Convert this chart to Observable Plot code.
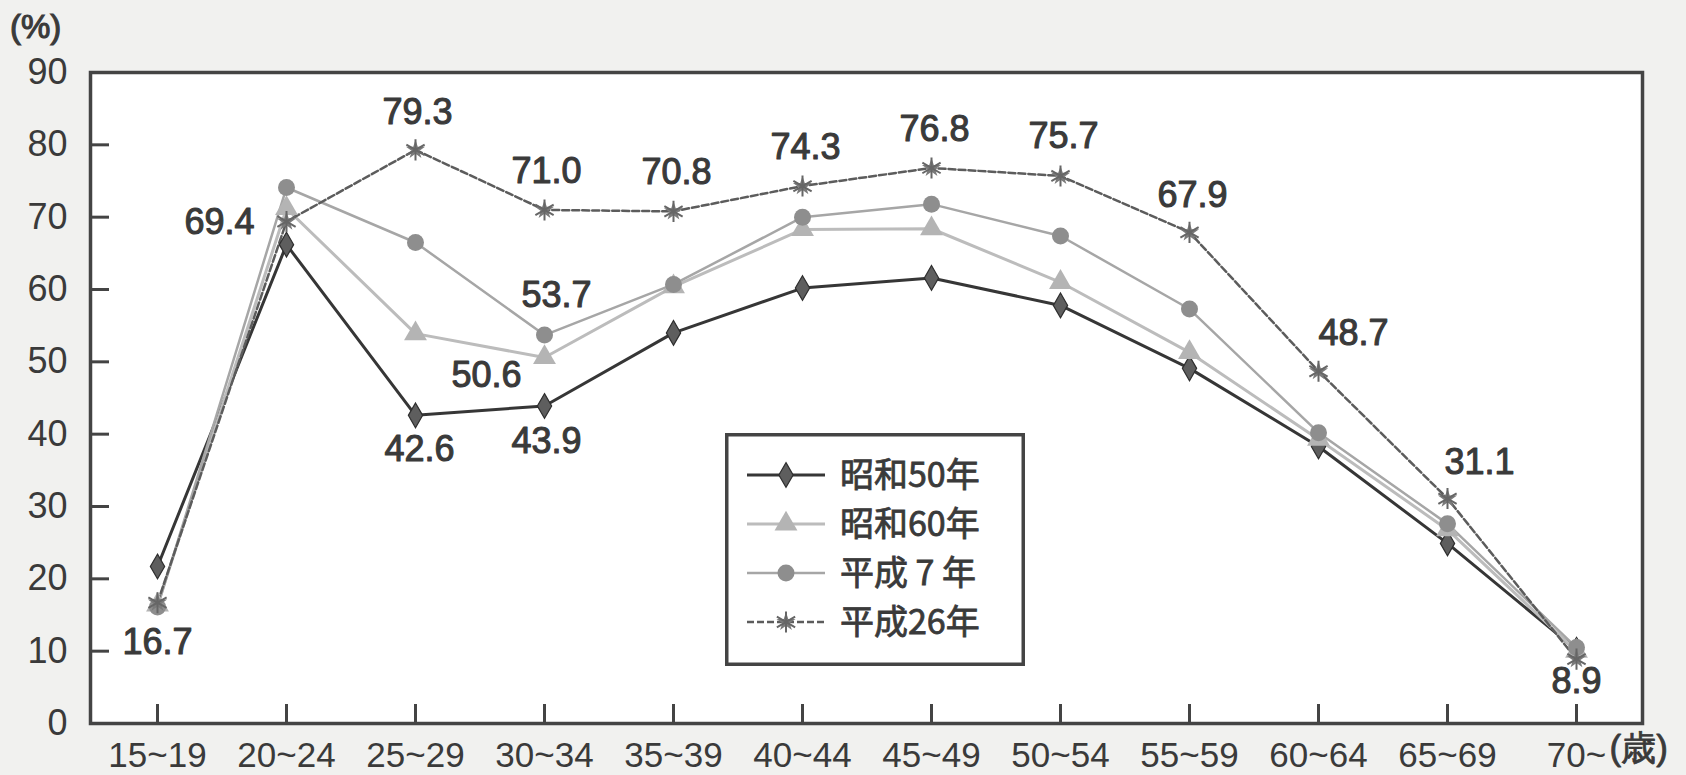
<!DOCTYPE html>
<html>
<head>
<meta charset="utf-8">
<script src="https://cdn.jsdelivr.net/npm/d3@7"></script>
<script src="https://cdn.jsdelivr.net/npm/@observablehq/plot@0.6"></script>
<style>
  html, body { margin: 0; padding: 0; background: #f1f1ef; }
  #wrap { position: relative; width: 1686px; height: 775px; overflow: hidden; }
  #pct { position: absolute; left: 10px; top: 8px; font: 33px "Liberation Sans", Arial, sans-serif; color: #3a3a3a; -webkit-text-stroke: 1.1px #3a3a3a; }
  #legend { position: absolute; }
</style>
</head>
<body>
<div id="wrap">
  <div id="chart"></div>
  <div id="pct">(%)</div>
  <div id="legend"></div>
</div>
<script>
// ---------- data ----------
const categories = ["15~19","20~24","25~29","30~34","35~39","40~44","45~49","50~54","55~59","60~64","65~69","70~"];
const seriesNames = ["昭和50年","昭和60年","平成 7 年","平成26年"];
const s50 = [21.7, 66.2, 42.6, 43.9, 54.0, 60.2, 61.6, 57.8, 49.1, 38.3, 24.9, 10.2];
const s60 = [16.4, 71.2, 53.9, 50.6, 60.4, 68.3, 68.4, 61.0, 51.3, 39.3, 26.8, 10.0];
const h07 = [16.1, 74.1, 66.5, 53.7, 60.7, 70.0, 71.8, 67.4, 57.3, 40.2, 27.6, 10.5];
const h26 = [16.7, 69.4, 79.3, 71.0, 70.8, 74.3, 76.8, 75.7, 67.9, 48.7, 31.1, 8.9];
const yTicks = [0, 10, 20, 30, 40, 50, 60, 70, 80, 90];
const unitLabel = "(%)";
const ageUnit = "(歳)";

// ---------- layout / style ----------
const W = 1686, H = 775;
const M = {top: 72, right: 44, bottom: 52, left: 90};
const plotW = W - M.left - M.right, plotH = H - M.top - M.bottom;
const FONT = '"Liberation Sans", Arial, sans-serif';
const TXT = "#3a3a3a";
const TSW = 1.1;
const styles = [
  {stroke: "#363636", width: 3,   dash: null,  symbol: "diamond",  fill: "#5e5e5e", dotStroke: "#2e2e2e", r: 7.5},
  {stroke: "#bcbcbc", width: 3,   dash: null,  symbol: "triangle", fill: "#b4b4b4", dotStroke: "none",    r: 8.5},
  {stroke: "#a6a6a6", width: 2.5, dash: null,  symbol: "circle",   fill: "#8e8e8e", dotStroke: "none",    r: 8.5},
  {stroke: "#5c5c5c", width: 2.5, dash: "7,3", symbol: "asterisk", fill: "#7a7a7a", dotStroke: "#666",    r: 10}
];
const allSeries = [s50, s60, h07, h26];
const rows = allSeries.flatMap((vals, s) => vals.map((v, i) => ({series: s, name: seriesNames[s], cat: categories[i], value: v})));

// which values carry a number label, with their offsets (layout only)
const labelPlacement = [
  {s: 3, i: 0, dx: 0, dy: 40},
  {s: 3, i: 1, dx: -67, dy: 1},
  {s: 3, i: 2, dx: 2, dy: -37},
  {s: 3, i: 3, dx: 2, dy: -38},
  {s: 3, i: 4, dx: 3, dy: -39},
  {s: 3, i: 5, dx: 3, dy: -39},
  {s: 3, i: 6, dx: 3, dy: -39},
  {s: 3, i: 7, dx: 3, dy: -39},
  {s: 3, i: 8, dx: 3, dy: -37},
  {s: 3, i: 9, dx: 35, dy: -38},
  {s: 3, i: 10, dx: 32, dy: -36},
  {s: 3, i: 11, dx: 0, dy: 22},
  {s: 0, i: 2, dx: 4, dy: 34},
  {s: 0, i: 3, dx: 2, dy: 36},
  {s: 1, i: 3, dx: -58, dy: 18},
  {s: 2, i: 3, dx: 12, dy: -40}
];
const labelRows = labelPlacement.map(p => ({cat: categories[p.i], value: allSeries[p.s][p.i], dx: p.dx, dy: p.dy}));

const marks = [
  Plot.frame({fill: "white", stroke: "none"})
];
// lines
styles.forEach((st, s) => {
  marks.push(Plot.line(rows.filter(d => d.series === s), {
    x: "cat", y: "value", stroke: st.stroke, strokeWidth: st.width,
    strokeDasharray: st.dash || undefined, strokeLinejoin: "round"
  }));
});
// markers
styles.forEach((st, s) => {
  const data = rows.filter(d => d.series === s);
  if (st.symbol === "asterisk") {
    marks.push(Plot.dot(data, {x: "cat", y: "value", symbol: "star", r: 6, fill: st.fill, stroke: "none"}));
    marks.push(Plot.dot(data, {x: "cat", y: "value", symbol: "asterisk", r: st.r, stroke: st.dotStroke, strokeWidth: 2}));
  } else {
    marks.push(Plot.dot(data, {x: "cat", y: "value", symbol: st.symbol, r: st.r, fill: st.fill, stroke: st.dotStroke, strokeWidth: 1.2}));
  }
});
// inward ticks
marks.push(Plot.tickY(yTicks, {y: d => d, insetRight: plotW - 19, stroke: "#444", strokeWidth: 3}));
marks.push(Plot.tickX(categories, {x: d => d, insetTop: plotH - 19, stroke: "#444", strokeWidth: 3}));
marks.push(Plot.frame({stroke: "#444", strokeWidth: 3.5}));
// value labels
labelPlacement.forEach((p, k) => {
  const d = labelRows[k];
  marks.push(Plot.text([d], {
    x: "cat", y: "value", text: r => r.value.toFixed(1), dx: p.dx, dy: p.dy,
    fontSize: 36, fill: TXT, stroke: TXT, strokeWidth: TSW, fontFamily: FONT
  }));
});
// axes
marks.push(Plot.axisY({ticks: yTicks, tickSize: 0, tickPadding: 23, fontSize: 36, fontFamily: FONT, label: null, fill: TXT, stroke: TXT, strokeWidth: TSW}));
marks.push(Plot.axisX({tickSize: 0, tickPadding: 19, fontSize: 35, fontFamily: FONT, label: null, fill: TXT, stroke: TXT, strokeWidth: TSW}));
marks.push(Plot.text([ageUnit], {x: () => categories[categories.length - 1], frameAnchor: "bottom", text: d => d, textAnchor: "start", dx: 33, dy: 36, fontSize: 35, fontFamily: FONT, fill: TXT, stroke: TXT, strokeWidth: 0.8}));

const chart = Plot.plot({
  width: W, height: H,
  marginTop: M.top, marginRight: M.right, marginBottom: M.bottom, marginLeft: M.left,
  style: {background: "transparent", fontFamily: FONT, color: TXT},
  x: {type: "point", domain: categories, padding: 0.5},
  y: {domain: [0, 90]},
  marks
});
document.getElementById("chart").appendChild(chart);
document.getElementById("pct").textContent = unitLabel;

// ---------- legend (inside plot frame) ----------
const LG = {left: 725, top: 433, w: 300, h: 233, rowY: [42, 91, 140, 189], x0: 22, x1: 100, sx: 61, tx: 115};
const leg = d3.select("#legend")
  .style("left", LG.left + "px").style("top", LG.top + "px");
const lsvg = leg.append("svg").attr("width", LG.w).attr("height", LG.h)
  .style("display", "block");
lsvg.append("rect").attr("x", 1.75).attr("y", 1.75).attr("width", LG.w - 3.5).attr("height", LG.h - 3.5)
  .attr("fill", "white").attr("stroke", "#444").attr("stroke-width", 3.5);
const symMap = {diamond: d3.symbolDiamond, triangle: d3.symbolTriangle, circle: d3.symbolCircle, asterisk: d3.symbolAsterisk, star: d3.symbolStar};
styles.forEach((st, s) => {
  const y = LG.rowY[s];
  lsvg.append("line").attr("x1", LG.x0).attr("x2", LG.x1).attr("y1", y).attr("y2", y)
    .attr("stroke", st.stroke).attr("stroke-width", st.width).attr("stroke-dasharray", st.dash);
  if (st.symbol === "asterisk") {
    lsvg.append("path").attr("transform", `translate(${LG.sx},${y})`).attr("d", d3.symbol(d3.symbolStar, Math.PI * 36)()).attr("fill", st.fill);
    lsvg.append("path").attr("transform", `translate(${LG.sx},${y})`).attr("d", d3.symbol(d3.symbolAsterisk, Math.PI * st.r * st.r)())
      .attr("fill", "none").attr("stroke", st.dotStroke).attr("stroke-width", 2);
  } else {
    lsvg.append("path").attr("transform", `translate(${LG.sx},${y})`).attr("d", d3.symbol(symMap[st.symbol], Math.PI * st.r * st.r)())
      .attr("fill", st.fill).attr("stroke", st.dotStroke === "none" ? null : st.dotStroke).attr("stroke-width", 1.2);
  }
  lsvg.append("text").attr("x", LG.tx).attr("y", y).attr("dy", "0.36em")
    .attr("font-family", '"Noto Sans CJK JP", ' + FONT).attr("font-size", 34)
    .attr("fill", TXT).attr("stroke", TXT).attr("stroke-width", 0.8)
    .text(seriesNames[s]);
});
</script>
</body>
</html>
